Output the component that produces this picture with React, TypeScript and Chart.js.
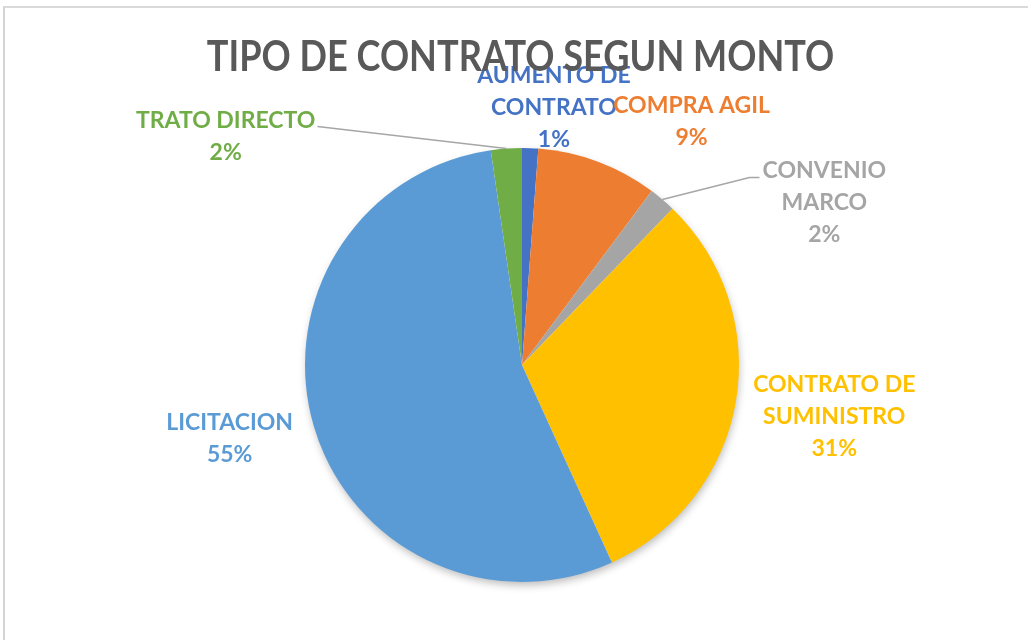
import React, { useEffect, useRef } from "react";
import { Chart, registerables } from "chart.js";

Chart.register(...registerables);

const chartTitle = "TIPO DE CONTRATO SEGUN MONTO";
const categories = [
  "AUMENTO DE CONTRATO",
  "COMPRA AGIL",
  "CONVENIO MARCO",
  "CONTRATO DE SUMINISTRO",
  "LICITACION",
  "TRATO DIRECTO",
];
const values = [1.2, 9.0, 2.0, 31.0, 54.5, 2.3];
const percentLabels = ["1%", "9%", "2%", "31%", "55%", "2%"];
const labelLines = [
  ["AUMENTO DE", "CONTRATO"],
  ["COMPRA AGIL"],
  ["CONVENIO", "MARCO"],
  ["CONTRATO DE", "SUMINISTRO"],
  ["LICITACION"],
  ["TRATO DIRECTO"],
];
const sliceColors = ["#4472C4", "#ED7D31", "#A5A5A5", "#FFC000", "#5B9BD5", "#70AD47"];

// label anchor: first-line baseline, relative to pie centre (in units of a 217.5px radius)
const labelOffsets = [
  [32, -283],
  [170, -253],
  [303, -187],
  [313, 27],
  [-293, 65],
  [-297, -238],
];
// leader line bends (relative to pie centre, same units); null = no leader
const leaderPoints: (number[][] | null)[] = [
  null,
  null,
  [[228, -188], [238, -188]],
  null,
  null,
  [[-205, -239]],
];

const FONT = "Lato, 'Open Sans', sans-serif";

const labelPlugin = {
  id: "pieLabels",
  beforeDatasetsDraw(chart: any) {
    const meta = chart.getDatasetMeta(0);
    const a = meta.data[0];
    if (!a) return;
    const ctx = chart.ctx;
    ctx.save();
    ctx.shadowColor = "rgba(0,0,0,0.28)";
    ctx.shadowBlur = 9;
    ctx.shadowOffsetX = 1;
    ctx.shadowOffsetY = 4;
    ctx.fillStyle = "#ffffff";
    ctx.beginPath();
    ctx.arc(a.x, a.y, a.outerRadius - 1, 0, Math.PI * 2);
    ctx.fill();
    ctx.restore();
  },
  afterDatasetsDraw(chart: any) {
    const meta = chart.getDatasetMeta(0);
    const ctx = chart.ctx;
    ctx.save();
    meta.data.forEach((arc: any, i: number) => {
      const s = arc.outerRadius / 217.5;
      const cx = arc.x;
      const cy = arc.y;
      const lp = leaderPoints[i];
      if (lp) {
        const mid = (arc.startAngle + arc.endAngle) / 2;
        const sx = cx + Math.cos(mid) * arc.outerRadius;
        const sy = cy + Math.sin(mid) * arc.outerRadius;
        ctx.strokeStyle = "#A6A6A6";
        ctx.lineWidth = 1.5;
        ctx.beginPath();
        ctx.moveTo(sx, sy);
        lp.forEach((p) => ctx.lineTo(cx + p[0] * s, cy + p[1] * s));
        ctx.stroke();
      }
      const lines = [...labelLines[i], percentLabels[i]];
      const [ox, oy] = labelOffsets[i];
      ctx.fillStyle = sliceColors[i];
      ctx.font = `bold 23px ${FONT}`;
      ctx.textAlign = "center";
      ctx.textBaseline = "alphabetic";
      lines.forEach((t, k) => {
        ctx.fillText(t, cx + ox * s, cy + oy * s + k * 32);
      });
    });
    ctx.restore();
  },
  afterDraw(chart: any) {
    const ctx = chart.ctx;
    const meta = chart.getDatasetMeta(0);
    const a = meta.data[0];
    const s = a.outerRadius / 217.5;
    ctx.save();
    ctx.fillStyle = "#595959";
    ctx.font = `bold 42px ${FONT}`;
    ctx.textAlign = "center";
    ctx.textBaseline = "alphabetic";
    ctx.fillText(chartTitle, a.x - 1.5 * s, a.y - 295 * s, 629 * s);
    ctx.restore();
  },
};

export default function App() {
  const ref = useRef<HTMLCanvasElement | null>(null);
  useEffect(() => {
    if (!ref.current) return;
    const chart = new Chart(ref.current, {
      type: "pie",
      data: {
        labels: categories,
        datasets: [
          {
            data: values,
            backgroundColor: sliceColors,
            borderWidth: 0,
          },
        ],
      },
      options: {
        responsive: false,
        maintainAspectRatio: false,
        animation: false,
        layout: { padding: { top: 148, bottom: 58, left: 305, right: 289 } },
        plugins: {
          legend: { display: false },
          tooltip: { enabled: false },
          title: { display: false },
        },
      },
      plugins: [labelPlugin],
    });
    return () => chart.destroy();
  }, []);
  return (
    <div style={{ position: "fixed", left: 0, top: 0, width: 1028, height: 640, background: "#fff", overflow: "hidden" }}>
      <div
        style={{
          position: "absolute",
          left: 3,
          top: 6,
          width: 1100,
          height: 700,
          borderTop: "2px solid #dadada",
          borderLeft: "2px solid #d4d4d4",
        }}
      />
      <canvas ref={ref} width={1028} height={640} style={{ position: "absolute", left: 0, top: 0, display: "block" }} />
    </div>
  );
}
